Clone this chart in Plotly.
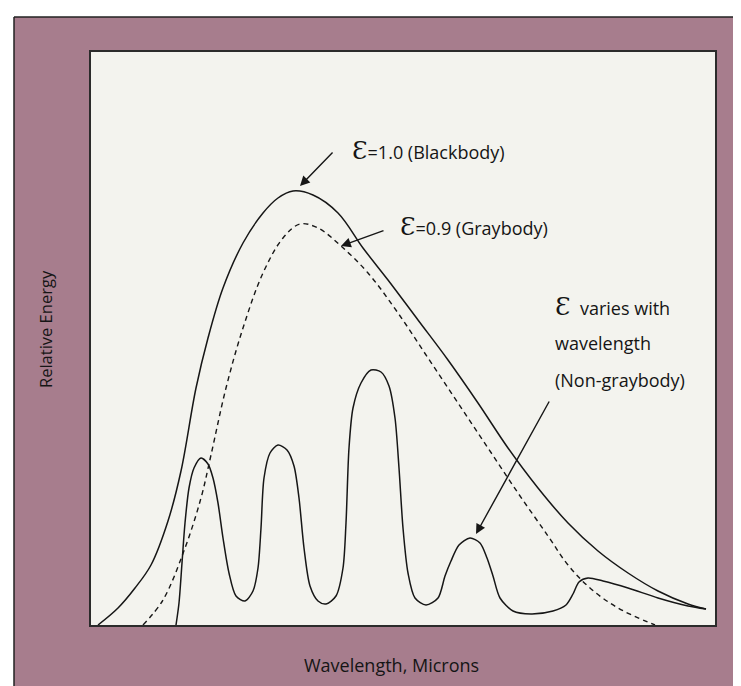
import plotly.graph_objects as go

# ---- data (x = wavelength units, y = relative energy units) ----
blackbody_x = [7, 27, 44, 60, 77, 90, 105, 117, 132, 152, 172, 187, 202, 222, 247, 272, 297, 327, 357, 387, 417, 447, 477, 507, 537, 567, 597, 615]
blackbody_y = [0, 17, 37, 60, 104, 154, 237, 287, 337, 382, 412, 427, 434, 430, 412, 377, 345, 305, 265, 222, 177, 137, 102, 74, 52, 34, 21, 16]

graybody_x = [52, 72, 94, 110, 120, 135, 152, 172, 192, 209, 227, 250, 277, 307, 337, 367, 397, 427, 457, 477, 499, 527, 564]
graybody_y = [0, 25, 77, 127, 170, 237, 297, 352, 387, 401, 397, 379, 352, 312, 267, 222, 177, 132, 89, 60, 37, 17, 0]

nongray_x = [85, 88, 91, 94, 98, 103, 110, 117, 122, 127, 132, 138, 145, 154, 162, 167, 170, 173, 179, 187, 196, 203, 208, 213, 219, 227, 235,
             245, 252, 255, 258, 262, 270, 280, 290, 298, 304, 308, 312, 317, 324, 335, 347, 354, 360, 368, 379, 389, 396, 402, 409, 422, 440,
             462, 475, 482, 488, 497, 512, 537, 567, 597, 615]
nongray_y = [0, 22, 62, 102, 137, 157, 167, 161, 147, 122, 87, 52, 29, 24, 34, 57, 97, 147, 172, 180, 175, 159, 127, 77, 39, 24, 21,
             29, 57, 102, 177, 217, 242, 255, 253, 239, 207, 157, 97, 52, 27, 20, 27, 49, 64, 80, 87, 82, 67, 49, 27, 14, 11,
             14, 20, 31, 43, 47, 44, 37, 27, 19, 16]

x_title = "Wavelength, Microns"
y_title = "Relative Energy"

# ---- layout geometry (pixels) ----
W, H = 741, 686
L, R, T, B = 83, 707, 44, 617
X_RANGE = [0, R - L]
Y_RANGE = [0, B - T]


def px_x(px):
    return (px - L) / (R - L)


def px_y(py):
    return (B - py) / (B - T)


LINE = "#161616"
MAUVE = "#a77d8d"
PLOTBG = "#f3f3ee"
FONT = "Open Sans"
TXT = "#151515"
EPS = '<span style="font-family:DejaVu Serif;font-size:25px">Ɛ</span>'

fig = go.Figure()
fig.add_trace(go.Scatter(x=blackbody_x, y=blackbody_y, mode="lines",
                         line=dict(color=LINE, width=1.5, shape="spline", smoothing=1.0),
                         hoverinfo="skip", showlegend=False))
fig.add_trace(go.Scatter(x=graybody_x, y=graybody_y, mode="lines",
                         line=dict(color=LINE, width=1.4, dash="5px,4px", shape="spline", smoothing=1.0),
                         hoverinfo="skip", showlegend=False))
fig.add_trace(go.Scatter(x=nongray_x, y=nongray_y, mode="lines",
                         line=dict(color=LINE, width=1.5, shape="spline", smoothing=0.8),
                         hoverinfo="skip", showlegend=False))

ann = []
tf = dict(family=FONT, size=18, color=TXT)


def label(text, px, py, xanchor="left"):
    ann.append(dict(text=text, x=px - L, y=B - py, xref="x", yref="y", showarrow=False,
                    xanchor=xanchor, yanchor="middle", font=tf))


def arrow(tipx, tipy, tailx, taily):
    ann.append(dict(text="", x=tipx - L, y=B - tipy, xref="x", yref="y", showarrow=True,
                    ax=tailx - tipx, ay=taily - tipy, arrowhead=2, arrowsize=1.4, arrowwidth=1.4,
                    arrowcolor=LINE, standoff=0, startstandoff=0))


label(EPS + "=1.0 (Blackbody)", 342, 142)
label(EPS + "=0.9 (Graybody)", 390, 218)
label(EPS + "  varies with", 545, 298)
label("wavelength", 545, 335)
label("(Non-graybody)", 545, 372)
arrow(292, 178, 326, 143)
arrow(333, 238, 377, 222)
arrow(468, 526, 542, 392)

ann.append(dict(text=x_title, x=px_x(383), y=px_y(657), xref="paper", yref="paper", showarrow=False,
                xanchor="center", yanchor="middle", font=dict(family=FONT, size=18, color=TXT)))
ann.append(dict(text=y_title, x=px_x(37), y=px_y(321), xref="paper", yref="paper", showarrow=False,
                textangle=-90, xanchor="center", yanchor="middle", font=dict(family=FONT, size=16.5, color=TXT)))

shapes = [
    dict(type="rect", xref="paper", yref="paper", x0=px_x(-5), x1=px_x(6), y0=px_y(700), y1=px_y(-5),
         fillcolor="white", line=dict(width=0), layer="above"),
    dict(type="rect", xref="paper", yref="paper", x0=px_x(-5), x1=px_x(750), y0=px_y(9), y1=px_y(-5),
         fillcolor="white", line=dict(width=0), layer="above"),
    dict(type="line", xref="paper", yref="paper", x0=px_x(6), x1=px_x(750), y0=px_y(9), y1=px_y(9),
         line=dict(color="#222", width=1.5), layer="above"),
    dict(type="line", xref="paper", yref="paper", x0=px_x(6), x1=px_x(6), y0=px_y(9), y1=px_y(700),
         line=dict(color="#222", width=1.5), layer="above"),
]

axis_common = dict(showgrid=False, zeroline=False, showticklabels=False, ticks="",
                   showline=True, mirror=True, linecolor="#2b2b2b", linewidth=2, fixedrange=True)

fig.update_layout(
    width=W, height=H,
    margin=dict(l=L, r=W - R, t=T, b=H - B, pad=0),
    paper_bgcolor=MAUVE, plot_bgcolor=PLOTBG,
    xaxis=dict(range=X_RANGE, **axis_common),
    yaxis=dict(range=Y_RANGE, **axis_common),
    annotations=ann, shapes=shapes,
    showlegend=False,
)

fig.write_html("out.html", config={"displayModeBar": False})
